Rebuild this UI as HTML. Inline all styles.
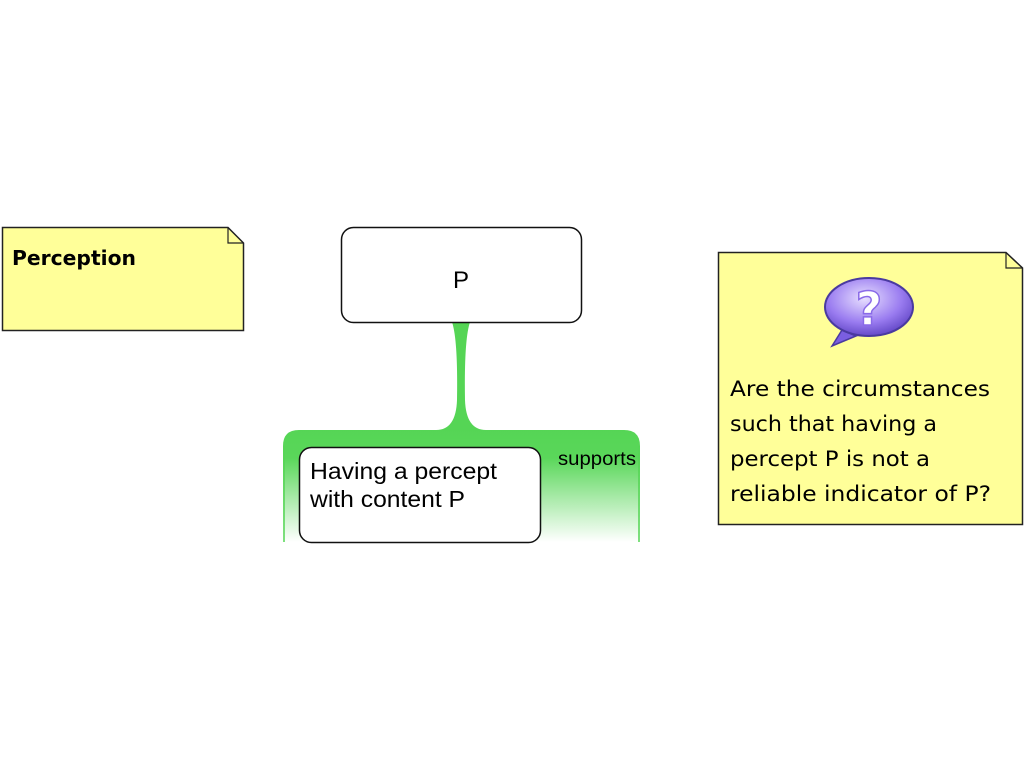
<!DOCTYPE html>
<html><head><meta charset="utf-8"><style>html,body{margin:0;padding:0;background:#fff}svg{display:block}</style></head>
<body>
<svg width="1024" height="768" viewBox="0 0 1024 768" xmlns="http://www.w3.org/2000/svg">
<defs>
<linearGradient id="g" gradientUnits="userSpaceOnUse" x1="0" y1="430" x2="0" y2="542">
<stop offset="0" stop-color="#55d555"/>
<stop offset="0.25" stop-color="#5ad75a"/>
<stop offset="1" stop-color="#ffffff"/>
</linearGradient>
<radialGradient id="b" cx="0.45" cy="0.35" r="0.7">
<stop offset="0" stop-color="#e8e0ff"/>
<stop offset="0.6" stop-color="#9a7cf0"/>
<stop offset="1" stop-color="#5a3fc0"/>
</radialGradient>
</defs>
<!-- left note -->
<path d="M2.5 227.5 H228 L243.5 243 V330.5 H2.5 Z" fill="#ffff99" stroke="#222" stroke-width="1.5"/>
<path d="M228 227.5 V243 H243.5" fill="none" stroke="#222" stroke-width="1.2"/>
<text x="12" y="265" font-family="'DejaVu Sans',sans-serif" font-weight="bold" font-size="20" textLength="124" lengthAdjust="spacingAndGlyphs">Perception</text>
<!-- green support region -->
<path d="M283 542 V446 Q283 430 299 430 H436 Q456 430 457 400 Q458 340 452 322 H470 Q464 340 465 400 Q466 430 486 430 H624 Q640 430 640 446 V542 Z" fill="url(#g)"/>
<path d="M284 542 V446 M639 446 V542" stroke="#55d555" stroke-width="1.5"/>
<!-- P box -->
<rect x="341.5" y="227.5" width="240" height="95" rx="12" fill="#fff" stroke="#111" stroke-width="1.5"/>
<text x="461" y="288" text-anchor="middle" font-family="'Liberation Sans',sans-serif" font-size="24">P</text>
<!-- child box -->
<rect x="299.5" y="447.5" width="241" height="95" rx="12" fill="#fff" stroke="#111" stroke-width="1.5"/>
<g font-family="'Liberation Sans',sans-serif" font-size="23">
<text x="310" y="479" textLength="187" lengthAdjust="spacingAndGlyphs">Having a percept</text>
<text x="310" y="507" textLength="155" lengthAdjust="spacingAndGlyphs">with content P</text>
</g>
<text x="558" y="465" font-family="'Liberation Sans',sans-serif" font-size="19" textLength="78" lengthAdjust="spacingAndGlyphs">supports</text>
<!-- right note -->
<path d="M718.5 252.5 H1006 L1022.5 268 V524.5 H718.5 Z" fill="#ffff99" stroke="#222" stroke-width="1.5"/>
<path d="M1006 252.5 V268 H1022.5" fill="none" stroke="#222" stroke-width="1.2"/>
<!-- bubble icon -->
<path d="M842 330 L832 346 L856 336 Z" fill="#7a5ee0" stroke="#4a3aa0" stroke-width="1.5"/>
<ellipse cx="869" cy="307" rx="44" ry="29" fill="url(#b)" stroke="#4a3aa0" stroke-width="2"/>
<text x="869" y="325" text-anchor="middle" font-family="'DejaVu Sans',sans-serif" font-weight="bold" font-size="46" fill="#fff" stroke="#8a6ae8" stroke-width="1.5">?</text>
<g font-family="'DejaVu Sans',sans-serif" font-size="21" fill="#000">
<text x="730" y="396" textLength="260" lengthAdjust="spacingAndGlyphs">Are the circumstances</text>
<text x="730" y="431" textLength="207" lengthAdjust="spacingAndGlyphs">such that having a</text>
<text x="730" y="466" textLength="200" lengthAdjust="spacingAndGlyphs">percept P is not a</text>
<text x="730" y="501" textLength="261" lengthAdjust="spacingAndGlyphs">reliable indicator of P?</text>
</g>
</svg>
</body></html>
